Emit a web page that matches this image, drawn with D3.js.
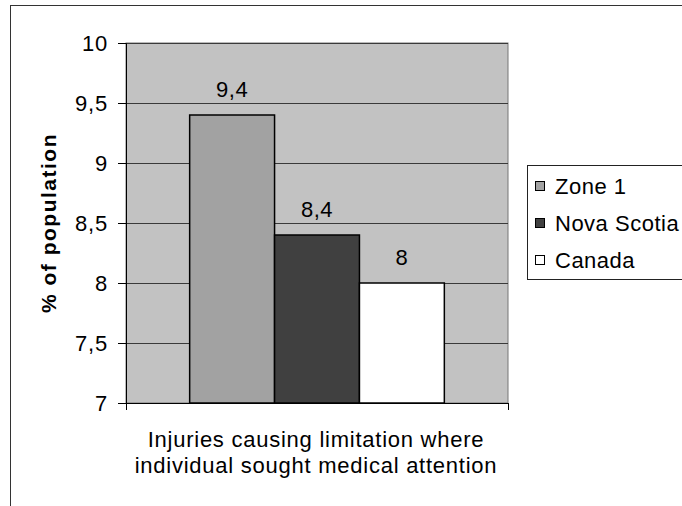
<!DOCTYPE html>
<html>
<head>
    <meta charset="utf-8" />
    <title>Injuries causing limitation</title>
    <script src="https://d3js.org/d3.v7.min.js" charset="utf-8"></script>
    <style>
        body { margin: 0; background: #fff; }
        text { font-family: "Liberation Sans", Arial, sans-serif; fill: #000; }
    </style>
</head>
<body>
    <script>
        // Chart data
        const series = ["Zone 1", "Nova Scotia", "Canada"];
        const values = [9.4, 8.4, 8];
        const categoryLines = ["Injuries causing limitation where", "individual sought medical attention"];
        const yTicks = [7, 7.5, 8, 8.5, 9, 9.5, 10];
        const yTitle = "% of population";

        const width = 682;
        const height = 506;
        const plot = { left: 126, right: 508, top: 43, bottom: 403 };
        const colors = ["#a2a2a2", "#404040", "#ffffff"];

        // decimal comma, like the original
        const fmt = d => String(d).replace(".", ",");

        const svg = d3.select("body")
            .append("svg")
            .attr("width", width)
            .attr("height", height);

        // outer chart frame (right and bottom edges fall outside the window)
        svg.append("rect")
            .attr("x", 10.5)
            .attr("y", 5.5)
            .attr("width", 700)
            .attr("height", 520)
            .attr("fill", "none")
            .attr("stroke", "#333");

        const y = d3.scaleLinear()
            .domain([7, 10])
            .range([plot.bottom, plot.top]);

        const x = d3.scaleBand()
            .domain(series)
            .range([plot.left, plot.right])
            .paddingInner(0)
            .paddingOuter(0.75);

        // plot area
        svg.append("rect")
            .attr("x", plot.left)
            .attr("y", plot.top)
            .attr("width", plot.right - plot.left)
            .attr("height", plot.bottom - plot.top)
            .attr("fill", "#c2c2c2")
            .attr("stroke", "#777");

        // gridlines
        svg.append("g")
            .selectAll("line")
            .data(yTicks)
            .enter()
            .append("line")
            .attr("x1", plot.left)
            .attr("x2", plot.right)
            .attr("y1", d => Math.round(y(d)) + 0.5)
            .attr("y2", d => Math.round(y(d)) + 0.5)
            .attr("stroke", "#3a3a3a")
            .attr("stroke-width", 1);

        // bars
        svg.append("g")
            .selectAll("rect")
            .data(values)
            .enter()
            .append("rect")
            .attr("x", (d, i) => x(series[i]))
            .attr("y", d => y(d))
            .attr("width", x.bandwidth())
            .attr("height", d => y(7) - y(d))
            .attr("fill", (d, i) => colors[i])
            .attr("stroke", "#000")
            .attr("stroke-width", 1.5);

        // value labels
        svg.append("g")
            .selectAll("text")
            .data(values)
            .enter()
            .append("text")
            .attr("x", (d, i) => x(series[i]) + x.bandwidth() / 2)
            .attr("y", d => y(d) - 18)
            .attr("text-anchor", "middle")
            .attr("font-size", "22px")
            .attr("letter-spacing", "0.5px")
            .text(d => fmt(d));

        // y axis
        const yAxis = svg.append("g")
            .attr("transform", `translate(${plot.left},0)`)
            .call(d3.axisLeft(y).tickValues(yTicks).tickFormat(fmt).tickSize(8).tickPadding(10));
        yAxis.select(".domain").attr("stroke", "#000");
        yAxis.selectAll(".tick line").attr("stroke", "#000");
        yAxis.selectAll("text")
            .attr("font-size", "22px")
            .attr("letter-spacing", "0.8px")
            .attr("font-family", "Liberation Sans, Arial, sans-serif")
            .attr("fill", "#000");

        // x axis: ticks at the category edges
        const xEdge = d3.scaleLinear().domain([0, 1]).range([plot.left, plot.right]);
        const xAxis = svg.append("g")
            .attr("transform", `translate(0,${plot.bottom})`)
            .call(d3.axisBottom(xEdge).tickValues([0, 1]).tickFormat("").tickSize(7).tickSizeOuter(0));
        xAxis.select(".domain").attr("stroke", "#000");
        xAxis.selectAll(".tick line").attr("stroke", "#000");

        // category label
        svg.append("text")
            .attr("x", (plot.left + plot.right) / 2 - 1)
            .attr("y", 447)
            .attr("text-anchor", "middle")
            .attr("font-size", "22px")
            .attr("letter-spacing", "0.75px")
            .selectAll("tspan")
            .data(categoryLines)
            .enter()
            .append("tspan")
            .attr("x", (plot.left + plot.right) / 2 - 1)
            .attr("dy", (d, i) => i === 0 ? 0 : 26)
            .text(d => d);

        // y title
        svg.append("text")
            .attr("transform", `translate(56,${(plot.top + plot.bottom) / 2}) rotate(-90)`)
            .attr("text-anchor", "middle")
            .attr("font-size", "21px")
            .attr("font-weight", "bold")
            .attr("letter-spacing", "1.5px")
            .text(yTitle);

        // legend
        const legend = svg.append("g").attr("transform", "translate(527,165)");
        legend.append("rect")
            .attr("x", 0.5)
            .attr("y", 0.5)
            .attr("width", 200)
            .attr("height", 114)
            .attr("fill", "#fff")
            .attr("stroke", "#222");

        const items = legend.selectAll(".item")
            .data(series)
            .enter()
            .append("g")
            .attr("class", "item")
            .attr("transform", (d, i) => `translate(0,${21 + i * 37})`);

        items.append("rect")
            .attr("x", 8.5)
            .attr("y", -4.5)
            .attr("width", 9)
            .attr("height", 9)
            .attr("fill", (d, i) => colors[i])
            .attr("stroke", "#000");

        items.append("text")
            .attr("x", 28)
            .attr("dy", "0.36em")
            .attr("font-size", "22px")
            .attr("letter-spacing", "0.5px")
            .text(d => d);
    </script>
</body>
</html>
